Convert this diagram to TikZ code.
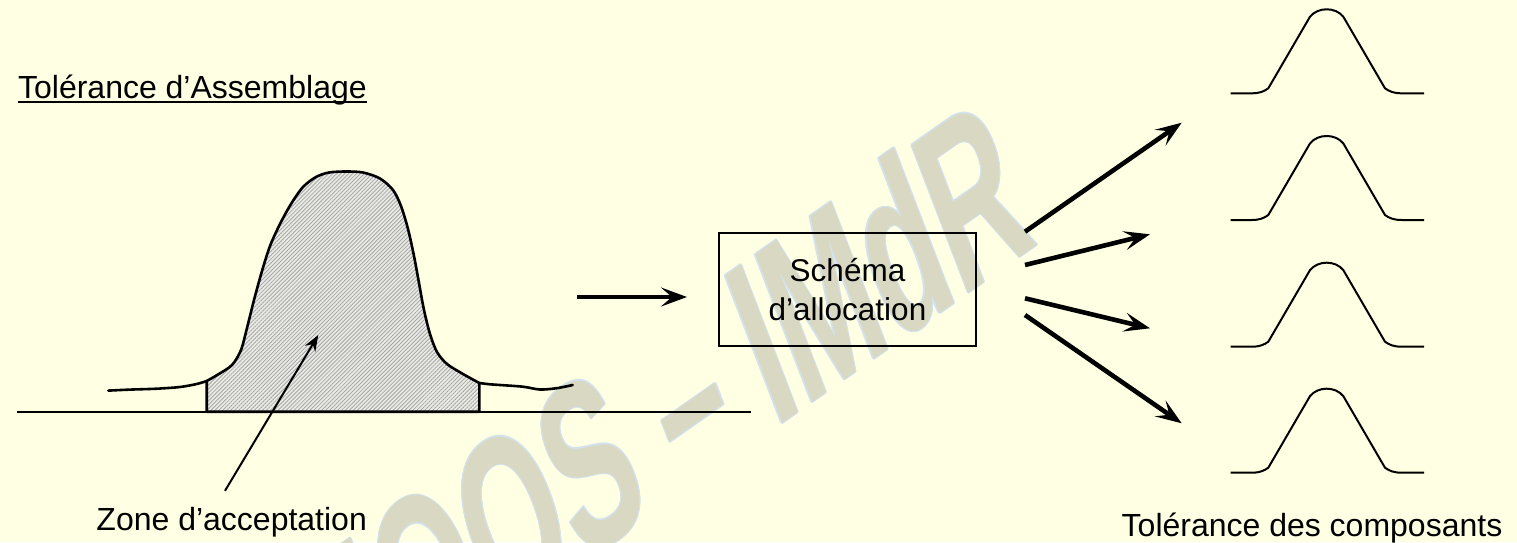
\documentclass[tikz,border=0pt]{standalone}
\usepackage{fontspec}
\setmainfont{Liberation Sans}
\usetikzlibrary{arrows.meta,patterns.meta,calc}
\definecolor{paper}{HTML}{FFFFE3}
\definecolor{wmfill}{HTML}{D9D8C3}
\definecolor{wmedge}{HTML}{D3E2EC}
\definecolor{hatchbg}{HTML}{EBEBE6}
\definecolor{hatchln}{HTML}{A6A6A6}

\begin{document}
\begin{tikzpicture}[x=0.5pt,y=-0.5pt,
  lbl/.style={inner sep=0pt, font=\fontsize{16pt}{19.5pt}\selectfont},
  wmark/.style={transform shape, anchor=base west, inner sep=0pt,
    font=\fontsize{115pt}{120pt}\selectfont\bfseries},
  wmframe/.style={cm={0.4701,0.3292,-0.3584,0.9336,(0,0)}},
  curve/.style={line width=1.3pt, line join=round, line cap=round},
  rule/.style={line width=1pt},
  bigarrow/.style={line width=2.3pt, -{Stealth[length=13pt,width=9.5pt,inset=5.5pt]}},
  thinarrow/.style={line width=1pt, -{Stealth[length=8pt,width=6pt,inset=2.6pt]}},
  smallbell/.style={line width=1pt, line join=round},
]

% page background
\fill[paper] (0,0) rectangle (1517,542);
\useasboundingbox (0,0) rectangle (1517,542);

% slanted watermark: pale blue rim first, then the beige letters
\foreach \dx/\dy [count=\k] in {1.2/0,-1.2/0,0/1.2,0/-1.2,0.85/0.85,-0.85/0.85,0.85/-0.85,-0.85/-0.85}{
  \begin{scope}[shift={(324.3+\dx,744.1+\dy)}, wmframe]
    \node[wmark, text=wmedge] (wmrim\k) at (0,0) {MOOS – IMdR};
  \end{scope}
}
\begin{scope}[shift={(324.3,744.1)}, wmframe]
  \node[wmark, text=wmfill] (wm) at (0,0) {MOOS – IMdR};
\end{scope}

% title
\node[lbl, anchor=base west] (title) at (17.7,98.5) {Tolérance d’Assemblage};
\draw[rule] ($(title.base west)+(0,3.5)$) -- ($(title.base east)+(0,3.5)$);

% assembly distribution: axis, hatched acceptance zone, tails
\coordinate (axL) at (16.7,411.7);
\coordinate (axR) at (751,411.7);
\draw[rule] (axL) -- (axR);

\draw[curve, preaction={fill=hatchbg},
      preaction={pattern={Lines[angle=45,distance=1.4pt,line width=0.42pt]}, pattern color=hatchln}]
  plot[smooth, tension=0.5] coordinates {
    (206.7,381) (218,374.5) (232,365) (241,350) (247,328) (254,300) (262,271)
    (270,246) (280,224) (291,204) (303,187) (316,177) (329,172.5) (346,171.5)
    (363,172.5) (380,178.5) (393,190) (401,206) (408,229) (414,256) (419,283)
    (424,310) (430,334) (437,352) (447,364) (463,374) (479.3,383)}
  -- (479.3,411.7) -- (206.7,411.7) -- cycle;

\draw[curve] plot[smooth, tension=0.5] coordinates {
  (108.3,390.6) (130,389.6) (156.7,388.7) (180,387) (196.7,384) (206.7,381)};
\draw[curve] plot[smooth, tension=0.5] coordinates {
  (479.3,383) (490,384.3) (500,385) (523,386.7) (540,389.5) (556.7,388.2) (572.7,385)};

% pointer to the acceptance zone
\node[lbl, anchor=base] (zone) at (231.7,530.6) {Zone d’acceptation};
\coordinate (ptrS) at (225,490.8);
\coordinate (ptrE) at (318.3,335);
\draw[thinarrow] (ptrS) -- (ptrE);

% allocation box and its input arrow
\node[draw, line width=1pt, minimum width=128.5pt, minimum height=56.5pt,
      align=center, font=\fontsize{15.75pt}{19.5pt}\selectfont] (alloc) at (847.5,289.5)
  {Schéma\\d’allocation};
\coordinate (inS) at (576.7,297);
\coordinate (inE) at (687,297);
\draw[bigarrow] (inS) -- (inE);

% fan of output arrows
\coordinate (o1) at (1025,231.7);  \coordinate (t1) at (1181.7,122.7);
\coordinate (o2) at (1025,265);    \coordinate (t2) at (1150,234.3);
\coordinate (o3) at (1025,298.3);  \coordinate (t3) at (1150,328.3);
\coordinate (o4) at (1025,315);    \coordinate (t4) at (1181.7,423.3);
\foreach \i in {1,...,4} \draw[bigarrow] (o\i) -- (t\i);

% component distributions
\foreach \F in {93.3,220,346.7,472.7}
  \draw[smallbell] (1230.7,\F) -- (1251.7,\F)
    .. controls (1260,\F) and (1264,\F-2) .. (1268.3,\F-5)
    -- (1310,\F-76.6)
    .. controls (1318,\F-86.5) and (1335.4,\F-86.5) .. (1343.3,\F-76.6)
    -- (1385,\F-5)
    .. controls (1389.3,\F-2) and (1393.4,\F) .. (1401.7,\F)
    -- (1424,\F);

\node[lbl, anchor=base] (comp) at (1312,536) {Tolérance des composants};

\end{tikzpicture}
\end{document}
